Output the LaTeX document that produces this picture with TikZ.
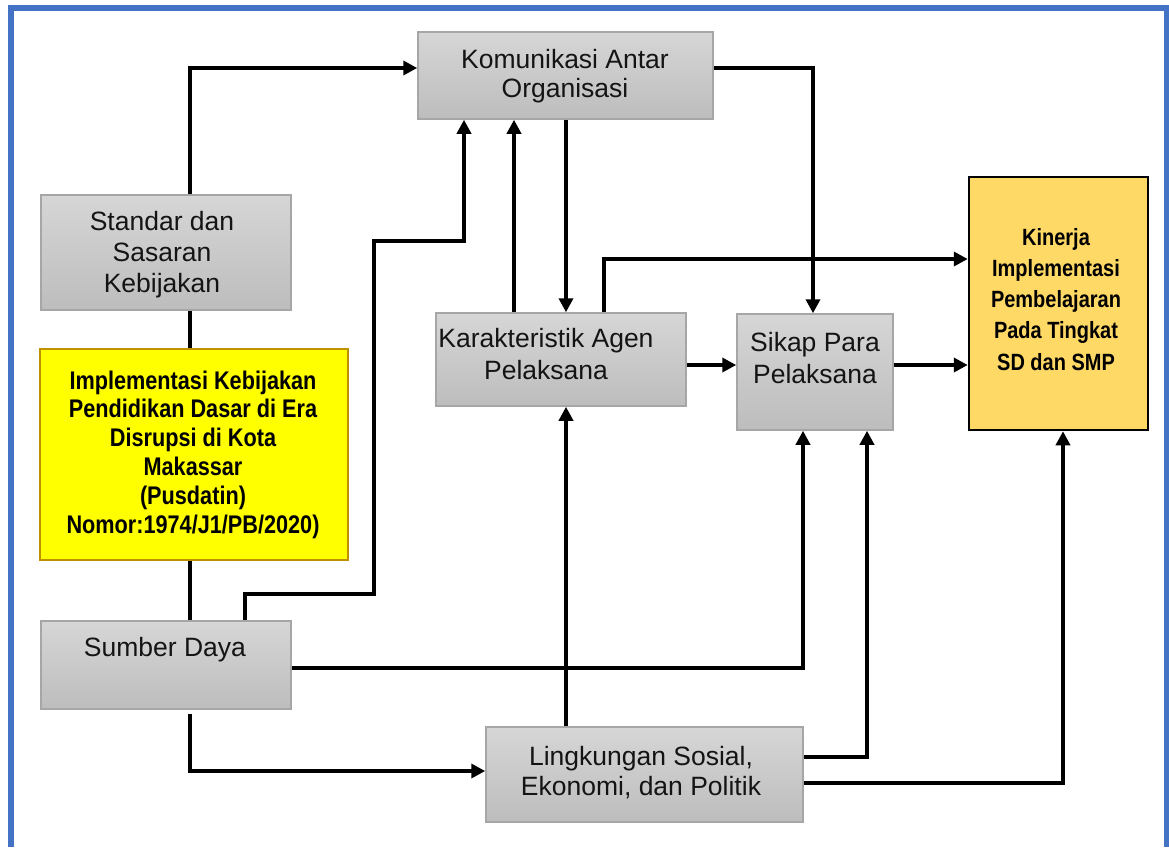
\documentclass[tikz,border=0pt]{standalone}
\usepackage{fontspec}
\setmainfont{Liberation Sans}
\newfontfamily\narrowfont{Liberation Sans}[FakeStretch=0.85]
\usetikzlibrary{arrows.meta}
\definecolor{frameblue}{HTML}{4472C4}
\definecolor{boxline}{HTML}{A6A6A6}
\definecolor{graytop}{HTML}{D6D6D6}
\definecolor{graybot}{HTML}{BDBDBD}
\definecolor{yelfill}{HTML}{FFFF00}
\definecolor{yelline}{HTML}{BF9000}
\definecolor{kinfill}{HTML}{FFD966}
\begin{document}
\begin{tikzpicture}[x=1pt,y=-1pt,
 graybox/.style={draw=boxline, line width=1.5pt, top color=graytop, bottom color=graybot, inner sep=0pt},
 graytext/.style={anchor=north, inner sep=0pt, align=center, font=\fontsize{26.5}{30.5}\selectfont, text=black!92},
 yelbox/.style={draw=yelline, line width=2pt, fill=yelfill, inner sep=0pt},
 yeltext/.style={anchor=north, inner sep=0pt, align=center, font=\narrowfont\bfseries\fontsize{25.5}{28.8}\selectfont},
 kinbox/.style={draw=black, line width=2.5pt, fill=kinfill, inner sep=0pt},
 kintext/.style={anchor=north, inner sep=0pt, align=center, font=\narrowfont\bfseries\fontsize{23.5}{31.3}\selectfont},
 conn/.style={line width=3.8pt, black},
 arr/.style={conn, -{Triangle[length=14pt,width=14pt]}}
]
\useasboundingbox (0,0) rectangle (1169,847);
\fill[white] (0,0) rectangle (1169,847);
\draw[frameblue, line width=6pt] (11,847) -- (11,8) -- (1166.5,8) -- (1166.5,847);

% boxes
\node[graybox, minimum width=295pt, minimum height=87pt] (kom) at (565.5,75.5) {};
\node[graybox, minimum width=250pt, minimum height=115pt] (std) at (166,252.5) {};
\node[yelbox, minimum width=308pt, minimum height=211pt] (yel) at (194,454.5) {};
\node[graybox, minimum width=250pt, minimum height=93pt] (kar) at (561,359.5) {};
\node[graybox, minimum width=156pt, minimum height=116pt] (sik) at (815,372) {};
\node[kinbox, minimum width=179pt, minimum height=253pt] (kin) at (1058.5,303.5) {};
\node[graybox, minimum width=250pt, minimum height=88pt] (sum) at (166,665) {};
\node[graybox, minimum width=317pt, minimum height=95pt] (lin) at (644.5,774.5) {};

% texts
\node[graytext, font=\fontsize{26.5}{29}\selectfont] (komt) at (565,49.5) {Komunikasi Antar\\Organisasi};
\node[graytext, font=\fontsize{26.5}{31}\selectfont] (stdt) at (162,211.5) {Standar dan\\Sasaran\\Kebijakan};
\node[graytext, font=\fontsize{26.5}{32}\selectfont] (kart) at (546,328.5) {Karakteristik Agen\\Pelaksana};
\node[graytext, font=\fontsize{26.5}{31.5}\selectfont] (sikt) at (815,332.5) {Sikap Para\\Pelaksana};
\node[graytext] (sumt) at (165,637.5) {Sumber Daya};
\node[graytext, font=\fontsize{26.5}{29.5}\selectfont] (lint) at (641,746.5) {Lingkungan Sosial,\\Ekonomi, dan Politik};
\node[yeltext] (yelt) at (193,370.4) {Implementasi Kebijakan\\Pendidikan Dasar di Era\\Disrupsi di Kota\\Makassar\\(Pusdatin)\\Nomor:1974/J1/PB/2020)};
\node[kintext] (kint) at (1056,227.8) {Kinerja\\Implementasi\\Pembelajaran\\Pada Tingkat\\SD dan SMP};

% helper coordinates
\coordinate (p1) at (190,68);
\coordinate (q1) at (245,594);
\coordinate (q2) at (374,241);
\coordinate (q3) at (464,241);
\coordinate (k1) at (514,200);
\coordinate (k2) at (566,200);
\coordinate (k3) at (813,200);
\coordinate (k4) at (604,259);
\coordinate (k5) at (700,365);
\coordinate (k6) at (803,668);
\coordinate (k7) at (300,771);
\coordinate (k8) at (867,757);
\coordinate (k9) at (1063,783);

% connectors
\draw[arr] (std.north -| p1) |- (kom.west |- p1);
\draw[conn] (std.south -| p1) -- (yel.north -| p1);
\draw[conn] (yel.south -| p1) -- (sum.north -| p1);
\draw[arr] (sum.north -| q1) -- (q1) -| (q2) -- (q3) -- (kom.south -| q3);
\draw[arr] (kar.north -| k1) -- (kom.south -| k1);
\draw[arr] (kom.south -| k2) -- (kar.north -| k2);
\draw[arr] (kom.east |- p1) -| (sik.north -| k3);
\draw[arr] (kar.north -| k4) |- (kin.west |- k4);
\draw[arr] (kar.east |- k5) -- (sik.west |- k5);
\draw[arr] (sik.east |- k5) -- (kin.west |- k5);
\draw[arr] (sum.east |- k6) -| (sik.south -| k6);
\draw[arr] ([yshift=-4pt]sum.south -| p1) |- (lin.west |- k7);
\draw[arr] (lin.north -| k2) -- (kar.south -| k2);
\draw[arr] (lin.east |- k8) -| (sik.south -| k8);
\draw[arr] (lin.east |- k9) -| (kin.south -| k9);
\end{tikzpicture}
\end{document}
